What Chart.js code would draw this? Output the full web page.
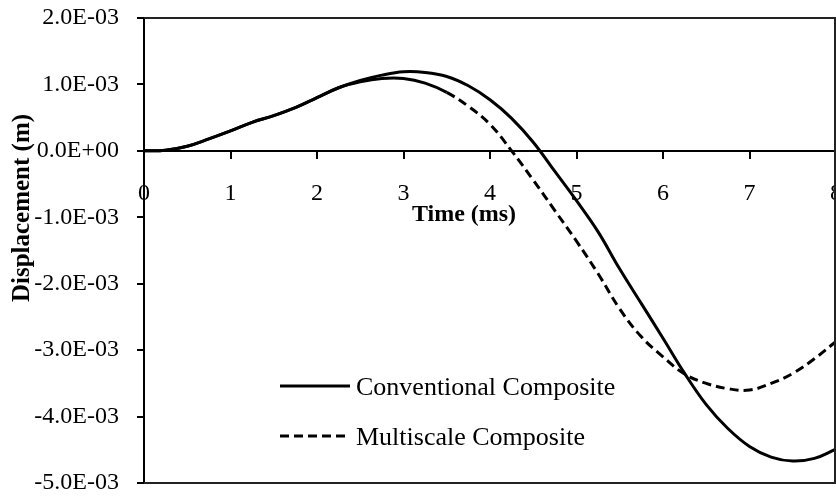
<!DOCTYPE html>
<html>
<head>
<meta charset="utf-8">
<script src="https://cdn.jsdelivr.net/npm/chart.js@4/dist/chart.umd.min.js"></script>
<style>
  html, body { margin: 0; padding: 0; background: #ffffff; }
  canvas { display: block; }
</style>
</head>
<body>
<canvas id="c" width="836" height="496"></canvas>
<script>
// ---- Data (time in ms, displacement in m) ----
const timeMs = [0, 0.25, 0.5, 0.75, 1.0, 1.25, 1.5, 1.75, 2.0, 2.25, 2.5, 2.75, 3.0, 3.25, 3.5, 3.75, 4.0, 4.25, 4.5, 4.75, 5.0, 5.25, 5.5, 5.75, 6.0, 6.25, 6.5, 6.75, 7.0, 7.25, 7.5, 7.75, 8.0];

const conventionalComposite = [0, 0.01e-3, 0.07e-3, 0.18e-3, 0.30e-3, 0.43e-3, 0.53e-3, 0.65e-3, 0.80e-3, 0.95e-3, 1.06e-3, 1.14e-3, 1.19e-3, 1.18e-3, 1.12e-3, 0.98e-3, 0.77e-3, 0.49e-3, 0.13e-3, -0.31e-3, -0.75e-3, -1.22e-3, -1.78e-3, -2.30e-3, -2.82e-3, -3.35e-3, -3.82e-3, -4.18e-3, -4.45e-3, -4.61e-3, -4.67e-3, -4.63e-3, -4.49e-3];

const multiscaleComposite = [0, 0.01e-3, 0.07e-3, 0.18e-3, 0.30e-3, 0.43e-3, 0.53e-3, 0.65e-3, 0.80e-3, 0.95e-3, 1.04e-3, 1.09e-3, 1.09e-3, 1.02e-3, 0.88e-3, 0.67e-3, 0.40e-3, 0.00e-3, -0.44e-3, -0.90e-3, -1.36e-3, -1.85e-3, -2.38e-3, -2.80e-3, -3.10e-3, -3.36e-3, -3.50e-3, -3.58e-3, -3.60e-3, -3.50e-3, -3.35e-3, -3.13e-3, -2.87e-3];

const seriesLabels = ['Conventional Composite', 'Multiscale Composite'];
const yTickValues = [-5e-3, -4e-3, -3e-3, -2e-3, -1e-3, 0, 1e-3, 2e-3];
const xTickValues = [0, 1, 2, 3, 4, 5, 6, 7, 8];
const xAxisTitle = 'Time (ms)';
const yAxisTitle = 'Displacement (m)';

const SERIF = '"Liberation Serif", "Times New Roman", serif';

function fmtSci(v) {
  if (Math.abs(v) < 1e-12) return '0.0E+00';
  let e = Math.floor(Math.log10(Math.abs(v)) + 1e-9);
  let m = v / Math.pow(10, e);
  const sign = e < 0 ? '-' : '+';
  const ea = Math.abs(e);
  return m.toFixed(1) + 'E' + sign + (ea < 10 ? '0' + ea : '' + ea);
}

const toPts = (xs, ys) => xs.map((x, i) => ({ x: x, y: ys[i] }));

const boxPlugin = {
  id: 'boxPlugin',
  afterDraw(chart) {
    const { ctx, chartArea: a } = chart;
    ctx.save();
    ctx.strokeStyle = '#222';
    ctx.lineWidth = 2;
    ctx.beginPath();
    ctx.moveTo(a.left, a.top);
    ctx.lineTo(a.right - 1, a.top);
    ctx.lineTo(a.right - 1, a.bottom);
    ctx.lineTo(a.left, a.bottom);
    ctx.stroke();
    ctx.restore();
  }
};

const titlesPlugin = {
  id: 'titlesPlugin',
  afterDraw(chart) {
    const { ctx } = chart;
    ctx.save();
    ctx.fillStyle = '#000';
    ctx.font = 'bold 24px ' + SERIF;
    ctx.textAlign = 'center';
    ctx.textBaseline = 'middle';
    ctx.fillText(xAxisTitle, 464, 215);
    ctx.translate(23, 208);
    ctx.rotate(-Math.PI / 2);
    ctx.font = 'bold 25px ' + SERIF;
    ctx.fillText(yAxisTitle, 0, 0);
    ctx.restore();
  }
};

const legendPlugin = {
  id: 'legendPlugin',
  afterDraw(chart) {
    const { ctx } = chart;
    const rows = [386, 436];
    ctx.save();
    chart.data.datasets.forEach((ds, i) => {
      const y = rows[i];
      ctx.strokeStyle = ds.borderColor;
      ctx.lineWidth = ds.borderWidth;
      ctx.setLineDash(ds.borderDash || []);
      ctx.beginPath();
      ctx.moveTo(280, y);
      ctx.lineTo(350, y);
      ctx.stroke();
      ctx.setLineDash([]);
      ctx.fillStyle = '#000';
      ctx.font = '26px ' + SERIF;
      ctx.textAlign = 'left';
      ctx.textBaseline = 'middle';
      ctx.fillText(ds.label, 356, y + 2);
    });
    ctx.restore();
  }
};

new Chart(document.getElementById('c'), {
  type: 'line',
  data: {
    datasets: [
      {
        label: seriesLabels[0],
        data: toPts(timeMs, conventionalComposite),
        borderColor: '#000',
        borderWidth: 3,
        pointRadius: 0,
        tension: 0.4,
        fill: false
      },
      {
        label: seriesLabels[1],
        data: toPts(timeMs, multiscaleComposite),
        borderColor: '#000',
        borderWidth: 3,
        borderDash: [9, 5],
        pointRadius: 0,
        tension: 0.4,
        fill: false,
        segment: {
          borderDash: (c) => (c.p1.parsed.x <= 3.5 ? [] : undefined)
        }
      }
    ]
  },
  options: {
    responsive: false,
    animation: false,
    devicePixelRatio: 1,
    layout: { autoPadding: false, padding: { left: 0, top: 18, right: 0, bottom: 13 } },
    plugins: { legend: { display: false }, tooltip: { enabled: false }, title: { display: false } },
    scales: {
      x: {
        type: 'linear',
        position: { y: 0 },
        min: 0,
        max: 8,
        afterBuildTicks: (s) => { s.ticks = xTickValues.map(v => ({ value: v })); },
        afterFit: (s) => { s.paddingLeft = 0; s.paddingRight = 0; s.paddingTop = 0; s.paddingBottom = 0; },
        grid: { display: true, drawOnChartArea: false, drawTicks: true, tickLength: 7, color: '#000', lineWidth: 2 },
        border: { display: true, color: '#000', width: 2 },
        ticks: {
          color: '#000',
          font: { family: SERIF, size: 24 },
          padding: 21,
          maxRotation: 0,
          autoSkip: false,
          callback: (v) => String(v)
        }
      },
      y: {
        type: 'linear',
        position: 'left',
        min: -5e-3,
        max: 2e-3,
        afterBuildTicks: (s) => { s.ticks = yTickValues.map(v => ({ value: v })); },
        afterFit: (s) => { s.width = 144; s.paddingLeft = 0; s.paddingRight = 0; s.paddingTop = 0; s.paddingBottom = 0; },
        grid: { display: true, drawOnChartArea: false, drawTicks: true, tickLength: 7, color: '#000', lineWidth: 2 },
        border: { display: true, color: '#000', width: 2 },
        ticks: {
          color: '#000',
          font: { family: SERIF, size: 24 },
          padding: 18,
          autoSkip: false,
          callback: (v) => fmtSci(v)
        }
      }
    }
  },
  plugins: [boxPlugin, titlesPlugin, legendPlugin]
});
</script>
</body>
</html>
